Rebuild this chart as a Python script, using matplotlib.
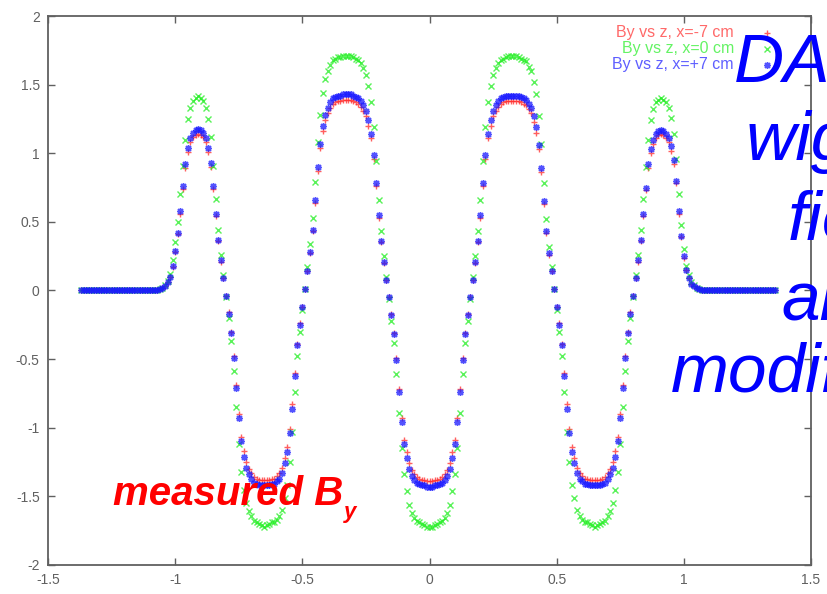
import numpy as np
import matplotlib
matplotlib.use('Agg')
import matplotlib.pyplot as plt

plt.rcParams['font.family'] = ['Liberation Sans', 'DejaVu Sans']
plt.rcParams['axes.unicode_minus'] = False

###############################################################################
# By(z), z in steps of 0.01 from -1.37 to 1.36

by_m7 = [  # x = -7 cm
    0.0, 0.0, 0.0, 0.0, 0.0, 0.0, 0.0, 0.0, 0.0, 0.0,
    0.0, 0.0, 0.0, 0.0, 0.0, 0.0, 0.0, 0.0, 0.0, 0.0,
    0.0, 0.0, 0.0, 0.0, 0.0, 0.0, 0.0, 0.0, 0.0, 0.0,
    0.0,
    0.01, 0.02, 0.03, 0.06, 0.10, 0.17, 0.28, 0.41, 0.56, 0.74,
    0.89, 1.01, 1.08, 1.12, 1.13, 1.14, 1.13, 1.12, 1.08, 1.01,
    0.90, 0.74, 0.54, 0.36, 0.21, 0.09, -0.04, -0.16, -0.30, -0.48,
    -0.69, -0.90, -1.07, -1.17, -1.25, -1.30, -1.33, -1.36, -1.37, -1.38,
    -1.38, -1.38, -1.38, -1.38, -1.37, -1.37, -1.35, -1.33, -1.29, -1.22,
    -1.14, -1.01, -0.83, -0.60, -0.39, -0.24, -0.12, 0.01, 0.14, 0.27,
    0.43, 0.64, 0.87, 1.04, 1.16, 1.24, 1.29, 1.33, 1.36, 1.37,
    1.38, 1.38, 1.39, 1.39, 1.39, 1.39, 1.38, 1.37, 1.36, 1.34,
    1.31, 1.27, 1.20, 1.11, 0.96, 0.76, 0.53, 0.35, 0.20, 0.08,
    -0.05, -0.17, -0.31, -0.49, -0.72, -0.93, -1.09, -1.18, -1.26, -1.31,
    -1.34, -1.36, -1.37, -1.38, -1.38, -1.39, -1.39, -1.39, -1.38, -1.38,
    -1.37, -1.36, -1.34, -1.31, -1.26, -1.18, -1.09, -0.93, -0.72, -0.49,
    -0.31, -0.17, -0.05, 0.08, 0.20, 0.35, 0.53, 0.76, 0.96, 1.11,
    1.20, 1.27, 1.31, 1.34, 1.36, 1.37, 1.38, 1.38, 1.38, 1.38,
    1.38, 1.38, 1.37, 1.36, 1.35, 1.32, 1.29, 1.23, 1.15, 1.03,
    0.86, 0.63, 0.42, 0.26, 0.14, 0.01, -0.12, -0.24, -0.39, -0.60,
    -0.83, -1.01, -1.14, -1.22, -1.29, -1.33, -1.35, -1.37, -1.37, -1.38,
    -1.38, -1.38, -1.38, -1.38, -1.37, -1.36, -1.33, -1.30, -1.25, -1.17,
    -1.07, -0.90, -0.69, -0.48, -0.30, -0.16, -0.04, 0.09, 0.21, 0.36,
    0.54, 0.73, 0.89, 1.00, 1.07, 1.11, 1.13, 1.14, 1.13, 1.11,
    1.08, 1.02, 0.92, 0.78, 0.56, 0.39, 0.24, 0.15, 0.09, 0.05,
    0.03, 0.02, 0.01,
    0.0, 0.0, 0.0, 0.0, 0.0, 0.0, 0.0, 0.0, 0.0, 0.0,
    0.0, 0.0, 0.0, 0.0, 0.0, 0.0, 0.0, 0.0, 0.0, 0.0,
    0.0, 0.0, 0.0, 0.0, 0.0, 0.0, 0.0, 0.0, 0.0, 0.0,
]

by_0 = [  # x = 0 cm
    0.0, 0.0, 0.0, 0.0, 0.0, 0.0, 0.0, 0.0, 0.0, 0.0,
    0.0, 0.0, 0.0, 0.0, 0.0, 0.0, 0.0, 0.0, 0.0, 0.0,
    0.0, 0.0, 0.0, 0.0, 0.0, 0.0, 0.0, 0.0, 0.0, 0.0,
    0.0,
    0.01, 0.02, 0.04, 0.07, 0.12, 0.22, 0.35, 0.50, 0.70, 0.91,
    1.10, 1.25, 1.33, 1.38, 1.40, 1.42, 1.40, 1.38, 1.33, 1.25,
    1.12, 0.91, 0.67, 0.44, 0.26, 0.11, -0.05, -0.20, -0.37, -0.59,
    -0.85, -1.12, -1.32, -1.45, -1.55, -1.61, -1.64, -1.68, -1.69, -1.70,
    -1.71, -1.72, -1.71, -1.70, -1.69, -1.69, -1.67, -1.64, -1.60, -1.51,
    -1.42, -1.25, -1.03, -0.74, -0.48, -0.30, -0.14, 0.01, 0.17, 0.34,
    0.53, 0.79, 1.08, 1.28, 1.44, 1.54, 1.60, 1.64, 1.68, 1.69,
    1.70, 1.70, 1.71, 1.71, 1.71, 1.71, 1.70, 1.69, 1.68, 1.66,
    1.62, 1.57, 1.49, 1.37, 1.19, 0.94, 0.66, 0.43, 0.25, 0.10,
    -0.06, -0.22, -0.38, -0.61, -0.89, -1.15, -1.34, -1.46, -1.56, -1.62,
    -1.66, -1.68, -1.69, -1.70, -1.71, -1.72, -1.72, -1.72, -1.71, -1.70,
    -1.69, -1.68, -1.66, -1.62, -1.56, -1.46, -1.34, -1.15, -0.89, -0.61,
    -0.38, -0.22, -0.06, 0.10, 0.25, 0.43, 0.66, 0.94, 1.19, 1.37,
    1.49, 1.57, 1.62, 1.66, 1.68, 1.69, 1.70, 1.71, 1.71, 1.71,
    1.71, 1.70, 1.69, 1.68, 1.67, 1.63, 1.60, 1.52, 1.43, 1.27,
    1.07, 0.78, 0.52, 0.32, 0.17, 0.01, -0.14, -0.30, -0.48, -0.74,
    -1.03, -1.25, -1.42, -1.51, -1.60, -1.64, -1.67, -1.69, -1.69, -1.70,
    -1.71, -1.72, -1.71, -1.70, -1.69, -1.68, -1.64, -1.61, -1.55, -1.45,
    -1.32, -1.12, -0.85, -0.59, -0.37, -0.20, -0.05, 0.11, 0.26, 0.44,
    0.67, 0.90, 1.10, 1.24, 1.32, 1.37, 1.39, 1.40, 1.39, 1.37,
    1.33, 1.26, 1.14, 0.96, 0.70, 0.48, 0.30, 0.18, 0.11, 0.06,
    0.04, 0.02, 0.01,
    0.0, 0.0, 0.0, 0.0, 0.0, 0.0, 0.0, 0.0, 0.0, 0.0,
    0.0, 0.0, 0.0, 0.0, 0.0, 0.0, 0.0, 0.0, 0.0, 0.0,
    0.0, 0.0, 0.0, 0.0, 0.0, 0.0, 0.0, 0.0, 0.0, 0.0,
]

by_p7 = [  # x = +7 cm
    0.0, 0.0, 0.0, 0.0, 0.0, 0.0, 0.0, 0.0, 0.0, 0.0,
    0.0, 0.0, 0.0, 0.0, 0.0, 0.0, 0.0, 0.0, 0.0, 0.0,
    0.0, 0.0, 0.0, 0.0, 0.0, 0.0, 0.0, 0.0, 0.0, 0.0,
    0.0,
    0.01, 0.02, 0.03, 0.06, 0.10, 0.18, 0.29, 0.42, 0.58, 0.76,
    0.92, 1.04, 1.11, 1.15, 1.17, 1.18, 1.17, 1.15, 1.11, 1.04,
    0.93, 0.76, 0.56, 0.37, 0.22, 0.09, -0.04, -0.17, -0.31, -0.49,
    -0.71, -0.93, -1.10, -1.21, -1.29, -1.34, -1.37, -1.40, -1.41, -1.42,
    -1.42, -1.42, -1.42, -1.42, -1.41, -1.41, -1.39, -1.37, -1.33, -1.26,
    -1.18, -1.04, -0.86, -0.62, -0.40, -0.25, -0.12, 0.01, 0.14, 0.28,
    0.44, 0.66, 0.90, 1.07, 1.20, 1.28, 1.33, 1.37, 1.40, 1.41,
    1.42, 1.42, 1.43, 1.43, 1.43, 1.43, 1.42, 1.41, 1.40, 1.38,
    1.35, 1.31, 1.24, 1.14, 0.99, 0.78, 0.55, 0.36, 0.21, 0.08,
    -0.05, -0.18, -0.32, -0.51, -0.74, -0.96, -1.12, -1.22, -1.30, -1.35,
    -1.38, -1.40, -1.41, -1.42, -1.42, -1.43, -1.43, -1.43, -1.42, -1.42,
    -1.41, -1.40, -1.38, -1.35, -1.30, -1.22, -1.12, -0.96, -0.74, -0.51,
    -0.32, -0.18, -0.05, 0.08, 0.21, 0.36, 0.55, 0.78, 0.99, 1.14,
    1.24, 1.31, 1.35, 1.38, 1.40, 1.41, 1.42, 1.42, 1.42, 1.42,
    1.42, 1.42, 1.41, 1.40, 1.39, 1.36, 1.33, 1.27, 1.19, 1.06,
    0.89, 0.65, 0.43, 0.27, 0.14, 0.01, -0.12, -0.25, -0.40, -0.62,
    -0.86, -1.04, -1.18, -1.26, -1.33, -1.37, -1.39, -1.41, -1.41, -1.42,
    -1.42, -1.42, -1.42, -1.42, -1.41, -1.40, -1.37, -1.34, -1.29, -1.21,
    -1.10, -0.93, -0.71, -0.49, -0.31, -0.17, -0.04, 0.09, 0.22, 0.37,
    0.56, 0.75, 0.92, 1.03, 1.10, 1.14, 1.16, 1.17, 1.16, 1.14,
    1.11, 1.05, 0.95, 0.80, 0.58, 0.40, 0.25, 0.15, 0.09, 0.05,
    0.03, 0.02, 0.01,
    0.0, 0.0, 0.0, 0.0, 0.0, 0.0, 0.0, 0.0, 0.0, 0.0,
    0.0, 0.0, 0.0, 0.0, 0.0, 0.0, 0.0, 0.0, 0.0, 0.0,
    0.0, 0.0, 0.0, 0.0, 0.0, 0.0, 0.0, 0.0, 0.0, 0.0,
]

# probe positions, 1 cm apart
z = np.round(-1.37 + 0.01*np.arange(len(by_p7)), 2)

labels = ['By vs z, x=-7 cm', 'By vs z, x=0 cm', 'By vs z, x=+7 cm']
colors = ['#ff2a2a', '#22ee22', '#1a1aff']
markers = ['+', 'x', (8, 2, 0)]

xticks = [-1.5, -1, -0.5, 0, 0.5, 1, 1.5]
yticks = [-2, -1.5, -1, -0.5, 0, 0.5, 1, 1.5, 2]

# overlay text lines and where each one starts (px)
title_lines = ['DA\u03a6NE', 'wiggler', 'field', 'and', 'modification']
title_x0 = [734, 746, 788, 781, 671]

###############################################################################

W, H = 827, 594
fig = plt.figure(figsize=(W/100, H/100), dpi=100)
ax = fig.add_axes([48/W, 1-565/H, (811-48)/W, (565-16)/H])

for by, c, m in zip([by_m7, by_0, by_p7], colors, markers):
    ax.plot(z, by, ls='none', marker=m, ms=5, mew=1.0, color=c, alpha=0.75)

ax.set_xlim(-1.5, 1.5)
ax.set_ylim(-2, 2)
ax.set_xticks(xticks)
ax.set_xticklabels([('%g' % t) for t in xticks])
ax.set_yticks(yticks)
ax.set_yticklabels([('%g' % t) for t in yticks])
ax.tick_params(direction='in', length=5, width=1, top=True, right=True,
               colors='#606060', labelsize=10, pad=6)
for s in ax.spines.values():
    s.set_color('#606060')
    s.set_linewidth(1.3)

# gnuplot style key, text right aligned, sample to the right
for i, (lab, c, m) in enumerate(zip(labels, colors, markers)):
    yp = 33 + 16*i
    fig.text(734/W, 1-yp/H, lab, ha='right', va='center', fontsize=11.5, color=c, alpha=0.7)
    ax.plot([(767-48)/763], [(565-yp)/549], transform=ax.transAxes, clip_on=False,
            ls='none', marker=m, ms=5, mew=1.0, color=c, alpha=0.75)

# slide overlay text, cut by the image border
for i, (t, x0) in enumerate(zip(title_lines, title_x0)):
    yb = [82, 160, 239, 319, 391][i]
    fig.text(x0/W, 1-yb/H, t, ha='left', va='baseline', fontsize=50,
             style='italic', color='#0000ff', zorder=10)

fig.text(113/W, 1-505/H, 'measured B', ha='left', va='baseline', fontsize=29,
         style='italic', fontweight='bold', color='#ff0000', zorder=10)
fig.text(344/W, 1-518/H, 'y', ha='left', va='baseline', fontsize=16,
         style='italic', fontweight='bold', color='#ff0000', zorder=10)

fig.savefig('out.png', dpi=100)
